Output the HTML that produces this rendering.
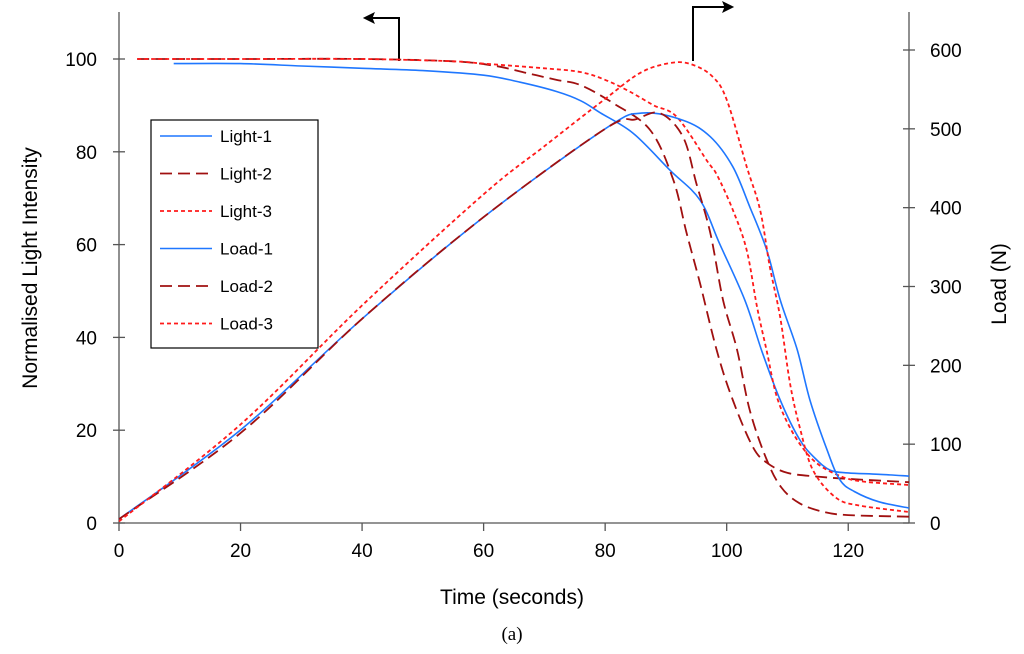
<!DOCTYPE html>
<html><head><meta charset="utf-8"><style>
body{margin:0;background:#fff;}
svg{display:block;font-family:"Liberation Sans",sans-serif;}
</style></head><body>
<svg id="c" width="1024" height="654"></svg>
<script>
const xTicks=[0,20,40,60,80,100,120];
const yLeftTicks=[0,20,40,60,80,100];
const yRightTicks=[0,100,200,300,400,500,600];
const light1T=[9,20,30,40,50,60,66,72,76,79.2,84.6,90.7,95.6,98.9,103,105.8,108.8,112,114.5,117,120,125,130];
const light1V=[99,99,98.5,98,97.5,96.5,95,93,91,88.4,84,76,69.6,60,48,37,26.5,18,14,11.4,10.8,10.5,10.1];
const light2T=[3,20,40,55,62,67,72,75.9,81.3,87.4,91.2,93.4,95.6,98.4,101,104.3,106.6,110,115,120,130];
const light2V=[100,100,100,99.5,98.5,97,95.5,94.4,90.5,84.7,74,62.5,51.7,37,26.5,16.4,13,10.8,10,9.5,8.8];
const light3T=[3,20,40,55,60,70,75.9,80,84,88,91.8,96.8,98.4,101,103.3,105,106.6,108.3,110.9,114.2,118,122,130];
const light3V=[100,100,100,99.5,99,98,97.2,95.5,93,90,87.5,78,75,67.5,58.8,46.5,37,27,19.4,13.6,10.5,9,8.2];
const load1T=[0,20,40,60,80,86,92.8,97.3,101,103.8,106.6,108.8,111.6,113.7,116.5,118.6,121,125,130];
const load1V=[5,118,259,388,500,520,511,490,452,401,346,283,220,156,93,55,40,27,19];
const load2T=[0,20,40,60,80,85,89,92.8,95,97.3,99.4,101.7,103.8,106.6,109,112,116,120,130];
const load2V=[5,114,259,388,500,512,520,490,431,368,283,220,143,80,45,25,14,10,8];
const load3T=[0,20,40,60,70,80,86,91.2,94.5,97.7,100,103.3,105.5,107.1,108.8,110.4,112,114.2,118,122,130];
const load3V=[2,125,276,417,478,538,572,584,581,566,537,452,397,325,261,178,122,67,32,22,14];

const svg=document.getElementById('c');
const NS='http://www.w3.org/2000/svg';
const X0=119,X1=909,Y0=523;
const sx=t=>X0+(X1-X0)*t/130;
const syL=v=>Y0-v*4.64;
const syR=v=>Y0-v*(Y0-50)/600;
function mk(tag,attrs,parent){const e=document.createElementNS(NS,tag);for(const k in attrs)e.setAttribute(k,attrs[k]);(parent||svg).appendChild(e);return e;}
function txt(s,x,y,anchor,size,parent,extra){const e=mk('text',Object.assign({x:x,y:y,'text-anchor':anchor,'font-size':size,fill:'#000'},extra||{}),parent);e.textContent=s;return e;}

const axes=mk('g',{stroke:'#555','stroke-width':1.3});


mk('line',{x1:X0,y1:12,x2:X0,y2:Y0},axes);
mk('line',{x1:X1,y1:12,x2:X1,y2:Y0},axes);
mk('line',{x1:X0,y1:Y0,x2:X1,y2:Y0},axes);
const xt=mk('g',{});


xTicks.forEach(t=>{mk('line',{x1:sx(t),y1:Y0,x2:sx(t),y2:Y0+8,stroke:'#555','stroke-width':1.3},xt);txt(String(t),sx(t),557,'middle',19,xt);});
const yl=mk('g',{});


yLeftTicks.forEach(v=>{mk('line',{x1:X0-6,y1:syL(v),x2:X0+6,y2:syL(v),stroke:'#555','stroke-width':1.3},yl);txt(String(v),97,syL(v)+7,'end',19,yl);});
const yr=mk('g',{});


yRightTicks.forEach(v=>{mk('line',{x1:X1-6,y1:syR(v),x2:X1+6,y2:syR(v),stroke:'#555','stroke-width':1.3},yr);txt(String(v),930,syR(v)+7,'start',19,yr);});

const xTitle=txt('Time (seconds)',512,604,'middle',21);


const yTitle=txt('Normalised Light Intensity',0,0,'middle',21,svg,{transform:'translate(37,268) rotate(-90)'});


const y2Title=txt('Load (N)',0,0,'middle',21,svg,{transform:'translate(1006,284) rotate(-90)'});


const cap=txt('(a)',512,640,'middle',19,svg,{'font-family':'Liberation Serif,serif'});



const ar=mk('g',{stroke:'#000','stroke-width':2,fill:'none'});


mk('polyline',{points:'399,61 399,18 370,18'},ar);
mk('polygon',{points:'364,18 374,13 372,18 374,23',fill:'#000','stroke-width':1},ar);
mk('polyline',{points:'693,61 693,7 727,7'},ar);
mk('polygon',{points:'733,7 723,2 725,7 723,12',fill:'#000','stroke-width':1},ar);

const styles={
 l1:{stroke:'#1f77ff','stroke-width':1.6},
 l2:{stroke:'#a01010','stroke-width':1.8,'stroke-dasharray':'12,6'},
 l3:{stroke:'#ff1a1a','stroke-width':1.8,'stroke-dasharray':'4,3'}
};
function series(T,V,sy,st,name){
  const P=T.map((t,i)=>[sx(t),sy(V[i])]);
  let d='M'+P[0][0].toFixed(1)+','+P[0][1].toFixed(1);
  for(let i=0;i<P.length-1;i++){
    const p0=P[Math.max(0,i-1)],p1=P[i],p2=P[i+1],p3=P[Math.min(P.length-1,i+2)];
    const c1=[p1[0]+(p2[0]-p0[0])/6,p1[1]+(p2[1]-p0[1])/6];
    const c2=[p2[0]-(p3[0]-p1[0])/6,p2[1]-(p3[1]-p1[1])/6];
    d+=' C'+c1[0].toFixed(1)+','+c1[1].toFixed(1)+' '+c2[0].toFixed(1)+','+c2[1].toFixed(1)+' '+p2[0].toFixed(1)+','+p2[1].toFixed(1);
  }
  const e=mk('path',Object.assign({d:d,fill:'none','stroke-linejoin':'round'},st));
  
  
}
series(light1T,light1V,syL,styles.l1,'light-1-line');
series(light2T,light2V,syL,styles.l2,'light-2-line');
series(light3T,light3V,syL,styles.l3,'light-3-line');
series(load1T,load1V,syR,styles.l1,'load-1-line');
series(load2T,load2V,syR,styles.l2,'load-2-line');
series(load3T,load3V,syR,styles.l3,'load-3-line');

const lg=mk('g',{});


mk('rect',{x:151,y:120,width:167,height:228,fill:'#fff',stroke:'#000','stroke-width':1.2},lg);
const names=['Light-1','Light-2','Light-3','Load-1','Load-2','Load-3'];
const sk=['l1','l2','l3','l1','l2','l3'];
names.forEach((n,i)=>{
  const y=136+i*37.5;
  const g=mk('g',{},lg);
  
  
  mk('line',Object.assign({x1:160,y1:y,x2:212,y2:y},styles[sk[i]]),g);
  txt(n,220,y+6,'start',17,g);
});
</script>
</body></html>
